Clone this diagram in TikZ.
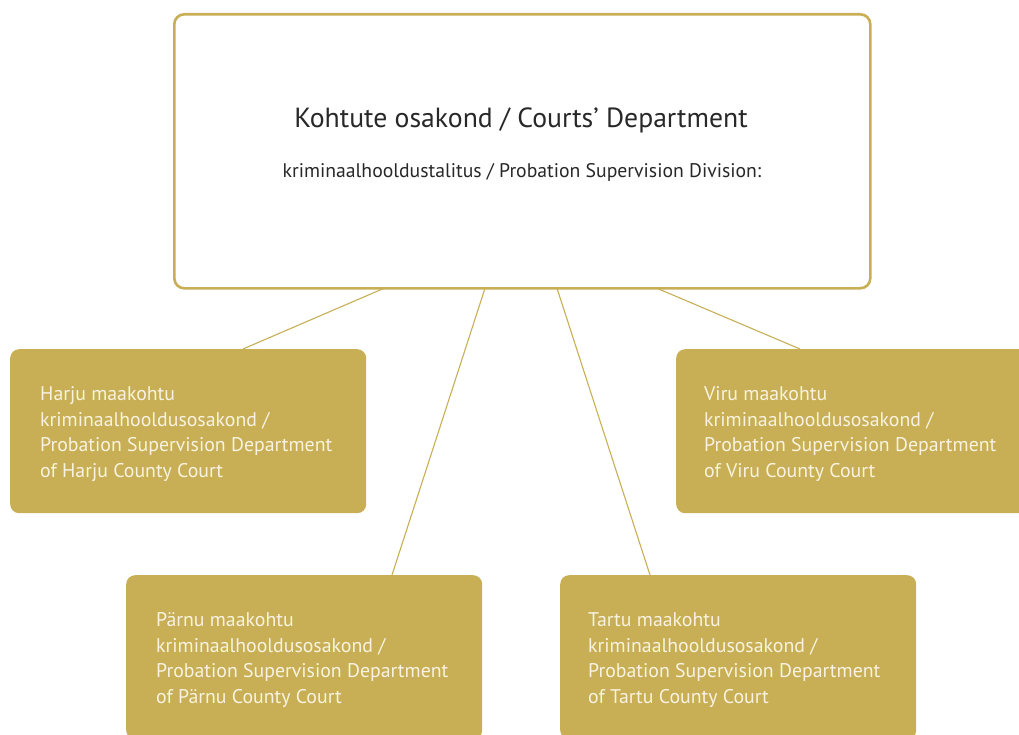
\documentclass[tikz,border=0pt]{standalone}
\usepackage{fontspec}
\setmainfont{PT Sans}
\definecolor{gold}{RGB}{200,175,85}
\definecolor{cream}{RGB}{248,243,225}
\definecolor{darktext}{RGB}{40,40,40}
\begin{document}
\begin{tikzpicture}[x=1pt,y=-1pt,
  gbox/.style={fill=gold, draw=none, rounded corners=9pt, minimum width=356pt, minimum height=164pt,
    anchor=north west, inner sep=0pt},
  gtext/.style={anchor=west, align=left, inner sep=0pt, yshift=-3pt,
    text=cream, font=\fontsize{19.8}{25.5}\selectfont},
  topbox/.style={draw=gold, line width=2.6pt, fill=white, rounded corners=10pt,
    minimum width=696pt, minimum height=274pt, anchor=north west},
  conn/.style={draw=gold, line width=1.1pt}]
\useasboundingbox (0,0) rectangle (1019,735);
\clip (0,0) rectangle (1019,735);
\node[topbox] (top) at (173,13) {};
\node[text=darktext, font=\fontsize{27.7}{32}\selectfont] (title) at (521,120) {Kohtute osakond / Courts’ Department};
\node[text=darktext, font=\fontsize{19.7}{23}\selectfont] (sub) at (522,172.5) {kriminaalhooldustalitus / Probation Supervision Division:};
\node[gbox] (harju) at (10,349) {};
\node[gtext] (harjut) at ([xshift=30pt]harju.west) {Harju maakohtu\\kriminaalhooldusosakond /\\Probation Supervision Department\\of Harju County Court};
\node[gbox] (viru) at (676,349) {};
\node[gtext] (virut) at ([xshift=28pt]viru.west) {Viru maakohtu\\kriminaalhooldusosakond /\\Probation Supervision Department\\of Viru County Court};
\node[gbox] (parnu) at (126,575) {};
\node[gtext] (parnut) at ([xshift=30pt]parnu.west) {Pärnu maakohtu\\kriminaalhooldusosakond /\\Probation Supervision Department\\of Pärnu County Court};
\node[gbox] (tartu) at (560,575) {};
\node[gtext] (tartut) at ([xshift=28pt]tartu.west) {Tartu maakohtu\\kriminaalhooldusosakond /\\Probation Supervision Department\\of Tartu County Court};
\coordinate (t1) at (384,288.3);
\coordinate (t2) at (485,288.3);
\coordinate (t3) at (557,288.3);
\coordinate (t4) at (657,288.3);
\coordinate (h1) at (243,349);
\coordinate (p1) at (392,575);
\coordinate (r1) at (650,575);
\coordinate (v1) at (800,349);
\draw[conn] (t1) -- (h1);
\draw[conn] (t2) -- (p1);
\draw[conn] (t3) -- (r1);
\draw[conn] (t4) -- (v1);
\end{tikzpicture}
\end{document}
